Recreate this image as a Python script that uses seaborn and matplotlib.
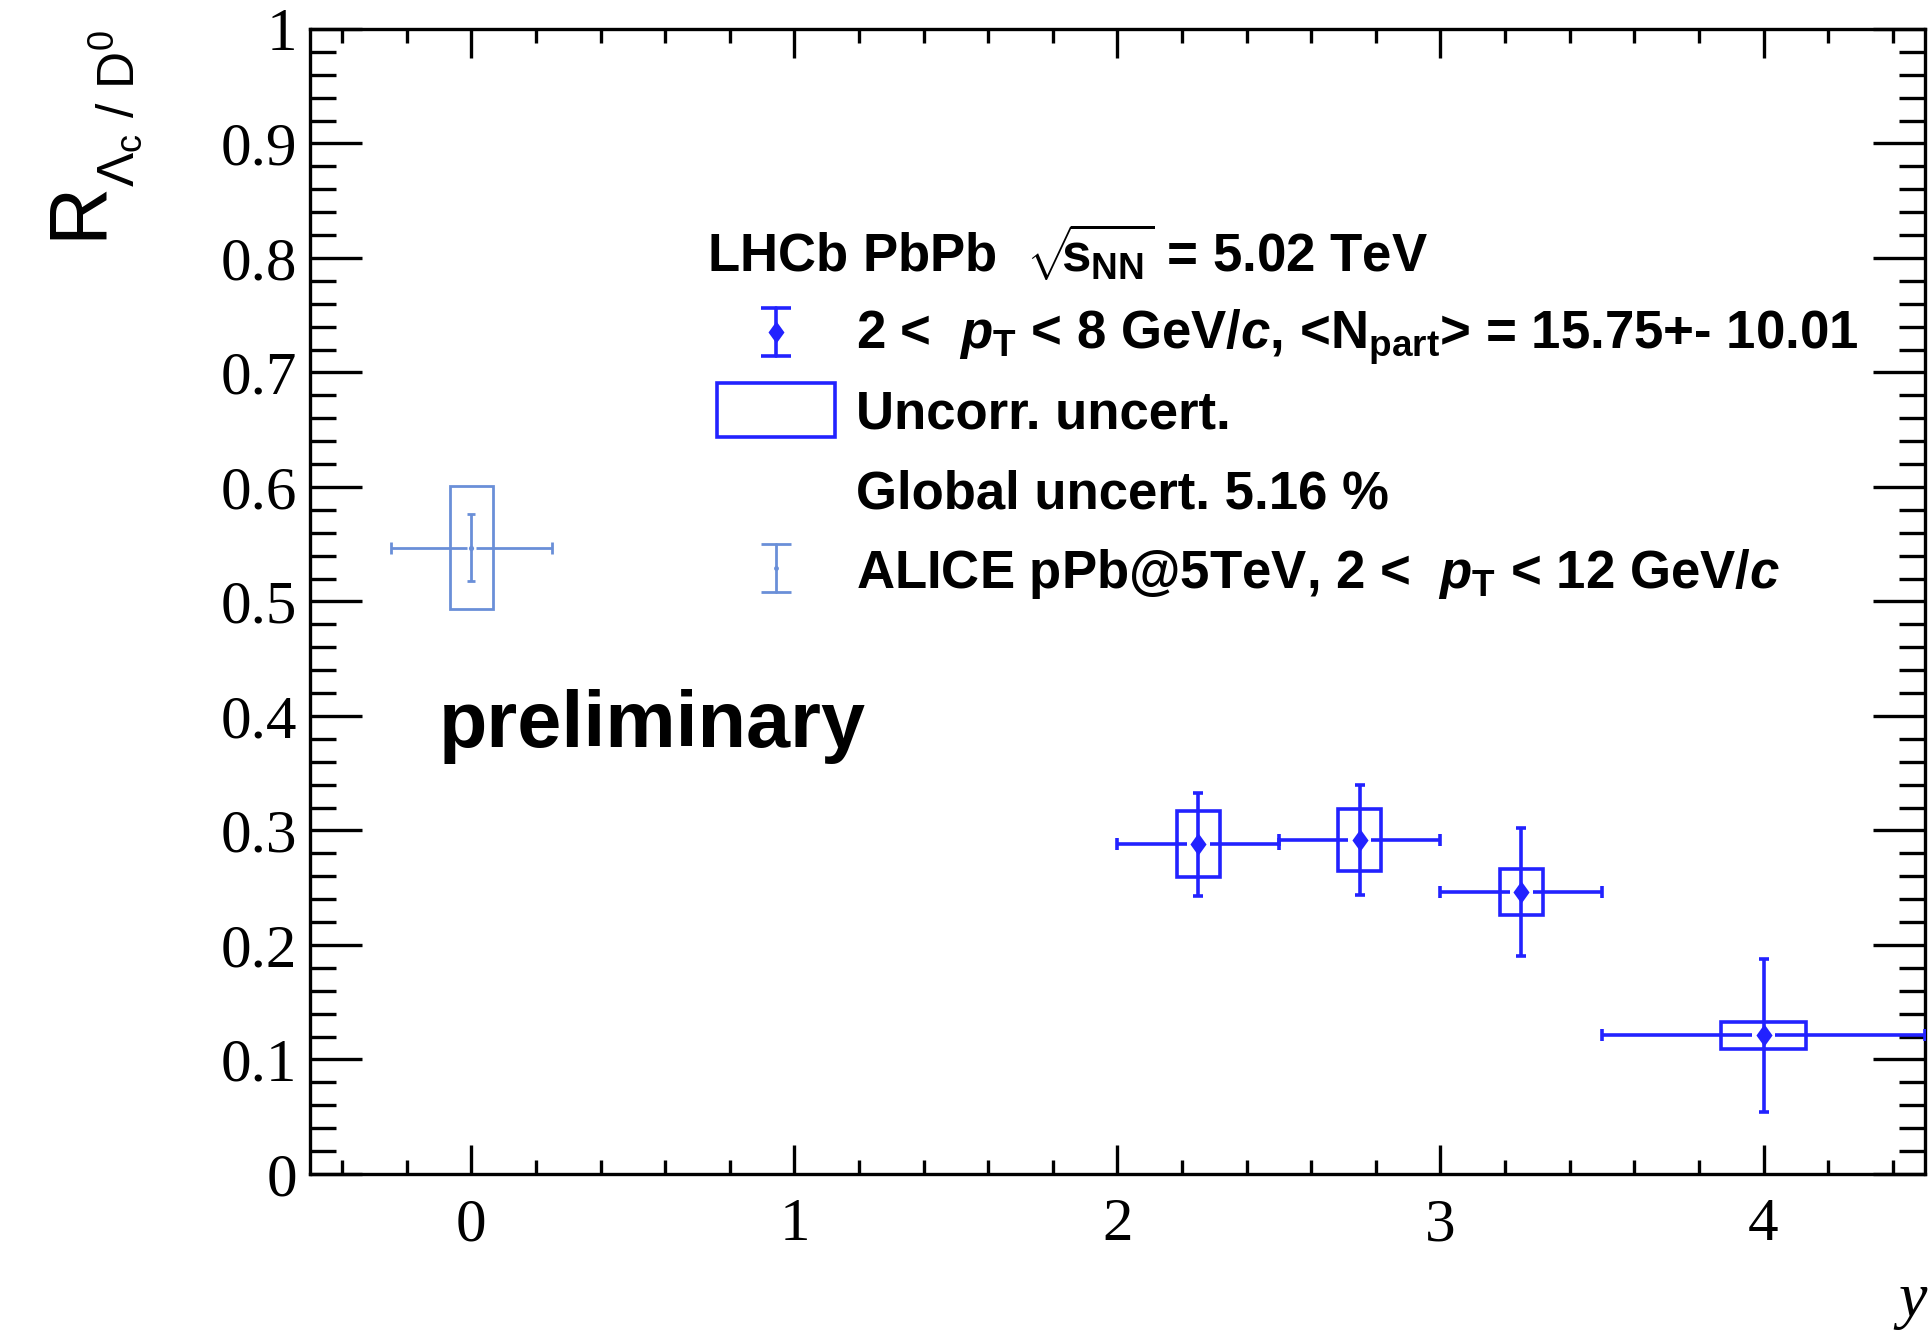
import numpy as np
import pandas as pd
import seaborn as sns
import matplotlib
matplotlib.use("Agg")
import matplotlib.pyplot as plt
from matplotlib.patches import Rectangle
from matplotlib.path import Path
from matplotlib.markers import MarkerStyle
from matplotlib.ticker import FixedLocator, MultipleLocator

# ---- data -------------------------------------------------------------
# LHCb PbPb, 2 < pT < 8 GeV/c
lhcb_rap = [2.25, 2.75, 3.25, 4.0]
lhcb_rap_halfwidth = [0.25, 0.25, 0.25, 0.5]
lhcb_ratio = [0.288, 0.292, 0.246, 0.121]
lhcb_stat = [0.045, 0.048, 0.056, 0.067]
lhcb_uncorr = [0.029, 0.027, 0.020, 0.012]

# ALICE pPb @ 5 TeV, 2 < pT < 12 GeV/c
alice_rap = [0.0]
alice_rap_halfwidth = [0.25]
alice_ratio = [0.547]
alice_stat = [0.029]
alice_syst = [0.054]

x_ticks = [0, 1, 2, 3, 4]
x_tick_labels = ["0", "1", "2", "3", "4"]
y_ticks = [0.0, 0.1, 0.2, 0.3, 0.4, 0.5, 0.6, 0.7, 0.8, 0.9, 1.0]
y_tick_labels = ["0", "0.1", "0.2", "0.3", "0.4", "0.5", "0.6", "0.7", "0.8", "0.9", "1"]

lhcb = pd.DataFrame({"rap": lhcb_rap, "hw": lhcb_rap_halfwidth, "ratio": lhcb_ratio,
                     "stat": lhcb_stat, "syst": lhcb_uncorr})
alice = pd.DataFrame({"rap": alice_rap, "hw": alice_rap_halfwidth, "ratio": alice_ratio,
                      "stat": alice_stat, "syst": alice_syst})

# ---- style ------------------------------------------------------------
sns.set_theme(style="ticks")
plt.rcParams["font.family"] = ["Liberation Sans", "DejaVu Sans"]
plt.rcParams["mathtext.fontset"] = "custom"
plt.rcParams["mathtext.rm"] = "Liberation Sans"
plt.rcParams["mathtext.it"] = "Liberation Sans:italic:bold"
plt.rcParams["mathtext.bf"] = "Liberation Sans:bold"
plt.rcParams["axes.linewidth"] = 2.4
plt.rcParams["axes.edgecolor"] = "black"
plt.rcParams["text.color"] = "black"
plt.rcParams["xtick.color"] = "black"
plt.rcParams["ytick.color"] = "black"
plt.rcParams["axes.labelcolor"] = "black"

LHCB_COLOR = "#2222ff"
ALICE_COLOR = "#6a8fd8"
SERIF = ["Liberation Serif", "DejaVu Serif"]

fig = plt.figure(figsize=(19.31, 13.36), dpi=100)
ax = fig.add_axes([0.1605, 0.1213, 0.8364, 0.8570])

diamond = MarkerStyle(Path([(0, 1), (0.72, 0), (0, -1), (-0.72, 0), (0, 1)], closed=True))


def draw_series(df, color, lw, capsize, gap, box_frac):
    # uncorrelated / systematic boxes
    for _, r in df.iterrows():
        half = box_frac * r.hw
        ax.add_patch(Rectangle((r.rap - half, r.ratio - r.syst), 2 * half, 2 * r.syst,
                               fill=False, edgecolor=color, linewidth=lw, zorder=3))
    # vertical statistical error bars
    ax.errorbar(df.rap, df.ratio, yerr=df.stat, fmt="none", ecolor=color,
                elinewidth=lw, capsize=capsize, capthick=lw, zorder=4)
    # horizontal bin-width bars, interrupted around the marker
    ax.hlines(df.ratio, df.rap - df.hw, df.rap - gap, colors=color, linewidth=lw, zorder=4)
    ax.hlines(df.ratio, df.rap + gap, df.rap + df.hw, colors=color, linewidth=lw, zorder=4)
    ax.plot(np.r_[df.rap - df.hw, df.rap + df.hw], np.r_[df.ratio, df.ratio], ls="none",
            marker="|", markersize=8, markeredgewidth=lw, color=color, zorder=4)


draw_series(alice, ALICE_COLOR, 2.0, 3.2, 0.015, 0.265)
draw_series(lhcb, LHCB_COLOR, 2.6, 3.6, 0.035, 0.265)

sns.scatterplot(data=lhcb, x="rap", y="ratio", marker=diamond, s=260, color=LHCB_COLOR,
                edgecolor=LHCB_COLOR, linewidth=0, zorder=5, ax=ax, legend=False)
sns.scatterplot(data=alice, x="rap", y="ratio", marker="o", s=14, color=ALICE_COLOR,
                edgecolor=ALICE_COLOR, linewidth=0, zorder=5, ax=ax, legend=False)

# ---- axes -------------------------------------------------------------
ax.set_xlim(-0.5, 4.5)
ax.set_ylim(0, 1)
ax.xaxis.set_major_locator(FixedLocator(x_ticks))
ax.xaxis.set_minor_locator(MultipleLocator(0.2))
ax.yaxis.set_major_locator(FixedLocator(y_ticks))
ax.yaxis.set_minor_locator(MultipleLocator(0.02))
ax.set_xticklabels(x_tick_labels, fontfamily=SERIF, fontsize=44)
ax.set_yticklabels(y_tick_labels, fontfamily=SERIF, fontsize=44)
ax.tick_params(which="both", direction="in", top=True, right=True, width=2.4,
               color="black")
ax.tick_params(axis="x", which="major", length=21, pad=17)
ax.tick_params(axis="x", which="minor", length=10)
ax.tick_params(axis="y", which="major", length=37.5, pad=9)
ax.tick_params(axis="y", which="minor", length=19)
ax.set_xlabel("")
ax.set_ylabel("")

# axis titles
fig.text(0.9979, 1 - 1316 / 1336, "y", fontfamily=SERIF, fontstyle="italic",
         fontsize=46, ha="right", va="baseline")
fig.text(100 / 1931, 1 - 239 / 1336, "R", fontsize=58, rotation=90,
         rotation_mode="anchor", ha="left", va="baseline")
fig.text(135 / 1931, 1 - 187 / 1336, r"$\Lambda_{\mathregular{c}}\mathregular{\ /\ D^{0}}$",
         fontsize=37, rotation=90, rotation_mode="anchor", ha="left", va="baseline")

# ---- legend block -----------------------------------------------------
LEG = dict(fontsize=38, fontweight="bold", transform=ax.transAxes, ha="left", va="baseline")
ax.text(0.2458, 0.7869,
        r"LHCb PbPb  $\sqrt{\!\!\mathregular{s}_{\mathregular{NN}}}$ = 5.02 TeV", **LEG)
ax.text(0.338, 0.7205,
        r"2 <  $p_{\mathregular{T}}$ < 8 GeV/$c$, <N$_{\mathregular{part}}$> = 15.75+- 10.01", **LEG)
ax.text(0.338, 0.6507, "Uncorr. uncert.", **LEG)
ax.text(0.338, 0.5808, "Global uncert. 5.16 %", **LEG)
ax.text(0.338, 0.5118, r"ALICE pPb@5TeV, 2 <  $p_{\mathregular{T}}$ < 12 GeV/$c$", **LEG)

key_x = 0.2885
for yc, color, lw, big in [(0.7354, LHCB_COLOR, 2.6, True), (0.5293, ALICE_COLOR, 2.0, False)]:
    ax.plot([key_x, key_x], [yc - 0.021, yc + 0.021], color=color, lw=lw,
            transform=ax.transAxes, clip_on=False)
    ax.plot([key_x, key_x], [yc - 0.021, yc + 0.021], ls="none", marker="_",
            markersize=22, markeredgewidth=lw, color=color, transform=ax.transAxes,
            clip_on=False)
    if big:
        ax.plot([key_x], [yc], ls="none", marker=diamond, markersize=16, color=color,
                markeredgewidth=0, transform=ax.transAxes, clip_on=False)
    else:
        ax.plot([key_x], [yc], ls="none", marker="o", markersize=3.5, color=color,
                markeredgewidth=0, transform=ax.transAxes, clip_on=False)
ax.add_patch(Rectangle((0.252, 0.6437), 0.073, 0.0471, fill=False, edgecolor=LHCB_COLOR,
                       linewidth=2.6, transform=ax.transAxes, clip_on=False))

ax.text(0.080, 0.3729, "preliminary", fontsize=57, fontweight="bold",
        transform=ax.transAxes, ha="left", va="baseline")

fig.savefig("out.png", dpi=100)
